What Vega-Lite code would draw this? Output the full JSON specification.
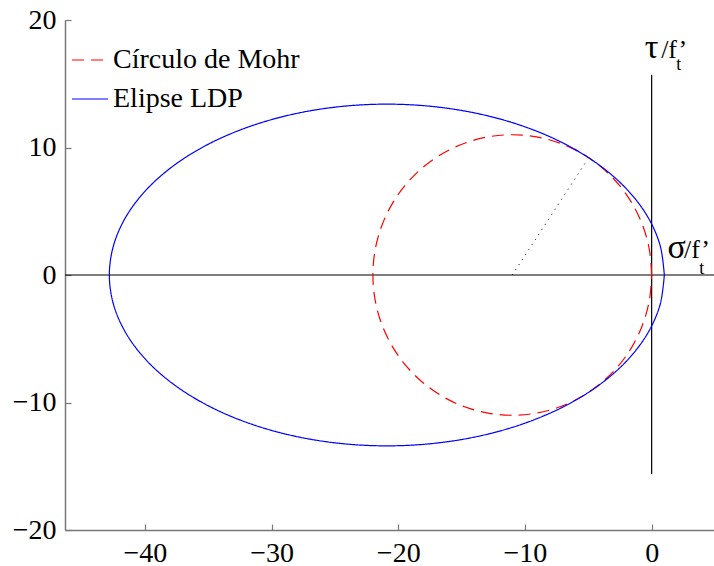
{
  "$schema": "https://vega.github.io/schema/vega-lite/v6.json",
  "width": 650,
  "height": 510,
  "autosize": {"type": "none"},
  "padding": {"left": 65, "top": 20, "right": 0, "bottom": 36},
  "background": "white",
  "config": {
    "view": {"stroke": null},
    "font": "Liberation Serif"
  },
  "datasets": {
    "curves": [
      {"serie": "Círculo de Mohr", "i": 0, "x": 0, "y": 0},
      {"serie": "Círculo de Mohr", "i": 1, "x": -0.167, "y": 1.91},
      {"serie": "Círculo de Mohr", "i": 2, "x": -0.663, "y": 3.762},
      {"serie": "Círculo de Mohr", "i": 3, "x": -1.474, "y": 5.5},
      {"serie": "Círculo de Mohr", "i": 4, "x": -2.574, "y": 7.071},
      {"serie": "Círculo de Mohr", "i": 5, "x": -3.929, "y": 8.426},
      {"serie": "Círculo de Mohr", "i": 6, "x": -5.5, "y": 9.526},
      {"serie": "Círculo de Mohr", "i": 7, "x": -7.238, "y": 10.337},
      {"serie": "Círculo de Mohr", "i": 8, "x": -9.09, "y": 10.833},
      {"serie": "Círculo de Mohr", "i": 9, "x": -11, "y": 11},
      {"serie": "Círculo de Mohr", "i": 10, "x": -12.91, "y": 10.833},
      {"serie": "Círculo de Mohr", "i": 11, "x": -14.762, "y": 10.337},
      {"serie": "Círculo de Mohr", "i": 12, "x": -16.5, "y": 9.526},
      {"serie": "Círculo de Mohr", "i": 13, "x": -18.071, "y": 8.426},
      {"serie": "Círculo de Mohr", "i": 14, "x": -19.426, "y": 7.071},
      {"serie": "Círculo de Mohr", "i": 15, "x": -20.526, "y": 5.5},
      {"serie": "Círculo de Mohr", "i": 16, "x": -21.337, "y": 3.762},
      {"serie": "Círculo de Mohr", "i": 17, "x": -21.833, "y": 1.91},
      {"serie": "Círculo de Mohr", "i": 18, "x": -22, "y": 0},
      {"serie": "Círculo de Mohr", "i": 19, "x": -21.833, "y": -1.91},
      {"serie": "Círculo de Mohr", "i": 20, "x": -21.337, "y": -3.762},
      {"serie": "Círculo de Mohr", "i": 21, "x": -20.526, "y": -5.5},
      {"serie": "Círculo de Mohr", "i": 22, "x": -19.426, "y": -7.071},
      {"serie": "Círculo de Mohr", "i": 23, "x": -18.071, "y": -8.426},
      {"serie": "Círculo de Mohr", "i": 24, "x": -16.5, "y": -9.526},
      {"serie": "Círculo de Mohr", "i": 25, "x": -14.762, "y": -10.337},
      {"serie": "Círculo de Mohr", "i": 26, "x": -12.91, "y": -10.833},
      {"serie": "Círculo de Mohr", "i": 27, "x": -11, "y": -11},
      {"serie": "Círculo de Mohr", "i": 28, "x": -9.09, "y": -10.833},
      {"serie": "Círculo de Mohr", "i": 29, "x": -7.238, "y": -10.337},
      {"serie": "Círculo de Mohr", "i": 30, "x": -5.5, "y": -9.526},
      {"serie": "Círculo de Mohr", "i": 31, "x": -3.929, "y": -8.426},
      {"serie": "Círculo de Mohr", "i": 32, "x": -2.574, "y": -7.071},
      {"serie": "Círculo de Mohr", "i": 33, "x": -1.474, "y": -5.5},
      {"serie": "Círculo de Mohr", "i": 34, "x": -0.663, "y": -3.762},
      {"serie": "Círculo de Mohr", "i": 35, "x": -0.167, "y": -1.91},
      {"serie": "Círculo de Mohr", "i": 36, "x": 0, "y": 0},
      {"serie": "Elipse LDP", "i": 0, "x": 1.0, "y": 0},
      {"serie": "Elipse LDP", "i": 1, "x": 0.667, "y": 2.326},
      {"serie": "Elipse LDP", "i": 2, "x": -0.321, "y": 4.583},
      {"serie": "Elipse LDP", "i": 3, "x": -1.935, "y": 6.7},
      {"serie": "Elipse LDP", "i": 4, "x": -4.125, "y": 8.614},
      {"serie": "Elipse LDP", "i": 5, "x": -6.823, "y": 10.265},
      {"serie": "Elipse LDP", "i": 6, "x": -9.95, "y": 11.604},
      {"serie": "Elipse LDP", "i": 7, "x": -13.41, "y": 12.592},
      {"serie": "Elipse LDP", "i": 8, "x": -17.098, "y": 13.196},
      {"serie": "Elipse LDP", "i": 9, "x": -20.9, "y": 13.4},
      {"serie": "Elipse LDP", "i": 10, "x": -24.702, "y": 13.196},
      {"serie": "Elipse LDP", "i": 11, "x": -28.39, "y": 12.592},
      {"serie": "Elipse LDP", "i": 12, "x": -31.85, "y": 11.604},
      {"serie": "Elipse LDP", "i": 13, "x": -34.977, "y": 10.265},
      {"serie": "Elipse LDP", "i": 14, "x": -37.675, "y": 8.614},
      {"serie": "Elipse LDP", "i": 15, "x": -39.865, "y": 6.7},
      {"serie": "Elipse LDP", "i": 16, "x": -41.479, "y": 4.583},
      {"serie": "Elipse LDP", "i": 17, "x": -42.467, "y": 2.326},
      {"serie": "Elipse LDP", "i": 18, "x": -42.8, "y": 0},
      {"serie": "Elipse LDP", "i": 19, "x": -42.467, "y": -2.326},
      {"serie": "Elipse LDP", "i": 20, "x": -41.479, "y": -4.583},
      {"serie": "Elipse LDP", "i": 21, "x": -39.865, "y": -6.7},
      {"serie": "Elipse LDP", "i": 22, "x": -37.675, "y": -8.614},
      {"serie": "Elipse LDP", "i": 23, "x": -34.977, "y": -10.265},
      {"serie": "Elipse LDP", "i": 24, "x": -31.85, "y": -11.604},
      {"serie": "Elipse LDP", "i": 25, "x": -28.39, "y": -12.592},
      {"serie": "Elipse LDP", "i": 26, "x": -24.702, "y": -13.196},
      {"serie": "Elipse LDP", "i": 27, "x": -20.9, "y": -13.4},
      {"serie": "Elipse LDP", "i": 28, "x": -17.098, "y": -13.196},
      {"serie": "Elipse LDP", "i": 29, "x": -13.41, "y": -12.592},
      {"serie": "Elipse LDP", "i": 30, "x": -9.95, "y": -11.604},
      {"serie": "Elipse LDP", "i": 31, "x": -6.823, "y": -10.265},
      {"serie": "Elipse LDP", "i": 32, "x": -4.125, "y": -8.614},
      {"serie": "Elipse LDP", "i": 33, "x": -1.935, "y": -6.7},
      {"serie": "Elipse LDP", "i": 34, "x": -0.321, "y": -4.583},
      {"serie": "Elipse LDP", "i": 35, "x": 0.667, "y": -2.326},
      {"serie": "Elipse LDP", "i": 36, "x": 1.0, "y": 0}
    ],
    "rules": [
      {"x": -46.3, "xe": 5, "y": 0, "ye": 0},
      {"x": 0, "xe": 0, "y": -15.6, "ye": 15.7}
    ],
    "radius": [
      {"i": 0, "x": -11, "y": 0},
      {"i": 1, "x": -5.1, "y": 9.0}
    ],
    "greek": [
      {"t": "τ", "x": -0.55, "y": 17.0},
      {"t": "σ", "x": 1.26, "y": 1.33}
    ],
    "slash": [
      {"t": "/f’", "x": 0.75, "y": 17.0},
      {"t": "/f’", "x": 2.55, "y": 1.33}
    ],
    "subs": [
      {"t": "t", "x": 1.95, "y": 16.1},
      {"t": "t", "x": 3.75, "y": 0.1}
    ]
  },
  "encoding": {
    "x": {
      "field": "x", "type": "quantitative",
      "scale": {"domain": [-46.3, 5], "nice": false, "zero": false},
      "axis": {
        "values": [-40, -30, -20, -10, 0],
        "title": null, "grid": false,
        "domainColor": "#777", "domainWidth": 1.5,
        "tickColor": "#777", "tickWidth": 1.2, "tickSize": -6,
        "labelPadding": 15, "labelFont": "Liberation Serif", "labelFontSize": 28, "labelColor": "black"
      }
    },
    "y": {
      "field": "y", "type": "quantitative",
      "scale": {"domain": [-20, 20], "nice": false, "zero": false},
      "axis": {
        "values": [-20, -10, 0, 10, 20],
        "title": null, "grid": false,
        "domainColor": "#777", "domainWidth": 1.5,
        "tickColor": "#777", "tickWidth": 1.2, "tickSize": -6,
        "labelPadding": 15, "labelFont": "Liberation Serif", "labelFontSize": 28, "labelColor": "black"
      }
    }
  },
  "layer": [
    {
      "data": {"name": "rules"},
      "mark": {"type": "rule", "color": "black", "strokeWidth": 1.2},
      "encoding": {"x2": {"field": "xe"}, "y2": {"field": "ye"}}
    },
    {
      "data": {"name": "curves"},
      "mark": {"type": "line", "strokeWidth": 1.2, "interpolate": "catmull-rom"},
      "encoding": {
        "order": {"field": "i", "type": "quantitative"},
        "color": {
          "field": "serie", "type": "nominal",
          "scale": {"domain": ["Círculo de Mohr", "Elipse LDP"], "range": ["#ff0000", "#0000ff"]},
          "legend": {
            "title": null, "orient": "none", "legendX": 6, "legendY": 21,
            "symbolType": "stroke", "symbolSize": 1300, "symbolStrokeWidth": 1.2,
            "labelFont": "Liberation Serif", "labelFontSize": 28, "labelColor": "black",
            "labelOffset": 4, "rowPadding": 6, "labelLimit": 400
          }
        },
        "strokeDash": {
          "field": "serie", "type": "nominal",
          "scale": {"domain": ["Círculo de Mohr", "Elipse LDP"], "range": [[12, 7], [1, 0]]},
          "legend": {
            "title": null, "orient": "none", "legendX": 6, "legendY": 21,
            "symbolType": "stroke", "symbolSize": 1300, "symbolStrokeWidth": 1.2,
            "labelFont": "Liberation Serif", "labelFontSize": 28, "labelColor": "black",
            "labelOffset": 4, "rowPadding": 6, "labelLimit": 400
          }
        }
      }
    },
    {
      "data": {"name": "radius"},
      "mark": {"type": "line", "color": "black", "strokeWidth": 1, "strokeDash": [1, 5]},
      "encoding": {"order": {"field": "i", "type": "quantitative"}}
    },
    {
      "data": {"name": "greek"},
      "mark": {"type": "text", "align": "left", "baseline": "alphabetic", "font": "Liberation Serif", "fontSize": 34, "color": "black"},
      "encoding": {"text": {"field": "t"}}
    },
    {
      "data": {"name": "slash"},
      "mark": {"type": "text", "align": "left", "baseline": "alphabetic", "font": "Liberation Serif", "fontSize": 26, "color": "black"},
      "encoding": {"text": {"field": "t"}}
    },
    {
      "data": {"name": "subs"},
      "mark": {"type": "text", "align": "left", "baseline": "alphabetic", "font": "Liberation Serif", "fontSize": 18, "color": "black"},
      "encoding": {"text": {"field": "t"}}
    }
  ]
}
